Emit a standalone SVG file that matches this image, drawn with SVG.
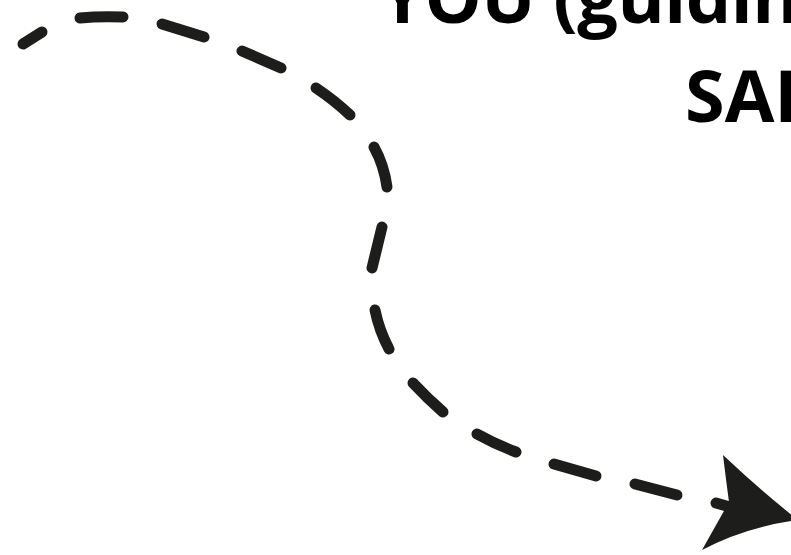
<svg xmlns="http://www.w3.org/2000/svg" width="791" height="555" viewBox="0 0 791 555">
<style>
.t{font-family:"Open Sans","Liberation Sans",sans-serif;font-weight:700;font-size:72px;fill:#000}
.d{fill:none;stroke:#1d1d1b;stroke-width:11;stroke-linecap:round}
.h{fill:#1d1d1b}
</style>
<rect width="791" height="555" fill="#fff"/>
<g id="title-line1"><text class="t" x="380" y="23" letter-spacing="-0.5">YOU (guidin</text></g>
<g id="title-line2"><text class="t" x="685" y="122">SAI</text></g>
<g id="connectors">
<path class="d" d="M23,44 L42,32"/>
<path class="d" d="M80,18 Q100,16 123,17"/>
<path class="d" d="M162,24 L204,37"/>
<path class="d" d="M242,51 L281,68"/>
<path class="d" d="M316,88 Q334,100 350,115"/>
<path class="d" d="M374,147 Q384,165 387,187"/>
<path class="d" d="M382,227 L372,268"/>
<path class="d" d="M375,310 Q379,330 389,349"/>
<path class="d" d="M413,383 Q427,398 443,412"/>
<path class="d" d="M477,434 Q495,444 516,452"/>
<path class="d" d="M554,464 L596,476"/>
<path class="d" d="M635,484 L677,495"/>
<path class="d" d="M716,503 L730,507"/>
<path class="h" d="M723,455 Q760,490 798,520 Q745,527 702,550 L729,502 Q726,480 723,455 Z"/>
</g>
</svg>
